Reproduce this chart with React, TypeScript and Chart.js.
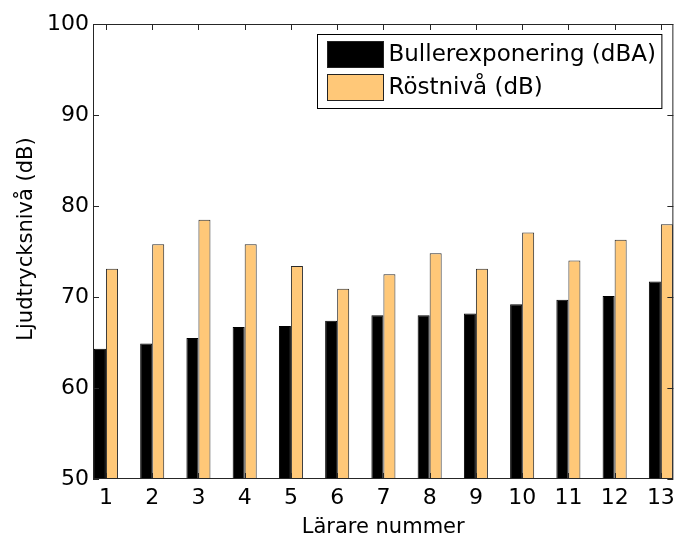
import { useEffect, useRef } from "react";
import { Chart, registerables } from "chart.js";

Chart.register(...registerables);

// Teacher index on the x axis
const teachers = [1, 2, 3, 4, 5, 6, 7, 8, 9, 10, 11, 12, 13];
// Noise exposure per teacher (dBA)
const noiseExposure = [64.3, 64.9, 65.5, 66.7, 66.8, 67.4, 68.0, 68.0, 68.2, 69.2, 69.7, 70.1, 71.7];
// Voice level per teacher (dB)
const voiceLevel = [73.1, 75.8, 78.5, 75.8, 73.4, 70.9, 72.5, 74.8, 73.1, 77.1, 74.0, 76.3, 78.0];
// Y axis tick values
const yTicks = [50, 60, 70, 80, 90, 100];
const seriesNames = ["Bullerexponering (dBA)", "Röstnivå (dB)"];
const xTitle = "Lärare nummer";
const yTitle = "Ljudtrycksnivå (dB)";

const FONT = '"DejaVu Sans", "Liberation Sans", Arial, sans-serif';
const AXIS_COLOR = "#262626";
const NOISE_COLOR = "#000000";
const VOICE_COLOR = "#ffc878";

// Draws the closed axes box, inward ticks, y label and the boxed legend.
const framePlugin = {
  id: "frameAndLegend",
  afterDatasetsDraw(chart: any) {
    const { ctx, chartArea: a, scales } = chart;
    const xs = scales.x;
    const ys = scales.y;
    ctx.save();
    ctx.strokeStyle = AXIS_COLOR;
    ctx.lineWidth = 1;
    ctx.strokeRect(a.left + 0.5, a.top + 0.5, a.right - a.left - 1, a.bottom - a.top - 1);

    const tl = 6;
    ctx.beginPath();
    for (const t of teachers) {
      const px = Math.round(xs.getPixelForValue(t)) + 0.5;
      ctx.moveTo(px, a.bottom);
      ctx.lineTo(px, a.bottom - tl);
      ctx.moveTo(px, a.top);
      ctx.lineTo(px, a.top + tl);
    }
    for (const v of yTicks) {
      const py = Math.round(ys.getPixelForValue(v)) + 0.5;
      ctx.moveTo(a.left, py);
      ctx.lineTo(a.left + tl, py);
      ctx.moveTo(a.right, py);
      ctx.lineTo(a.right - tl, py);
    }
    ctx.stroke();

    // y axis label
    ctx.save();
    ctx.translate(27, 239);
    ctx.rotate(-Math.PI / 2);
    ctx.font = `21px ${FONT}`;
    ctx.fillStyle = "#000";
    ctx.textAlign = "center";
    ctx.textBaseline = "middle";
    ctx.fillText(yTitle, 0, 0);
    ctx.restore();

    // legend
    ctx.font = `23px ${FONT}`;
    const datasets = chart.data.datasets;
    const textW = Math.max(...datasets.map((d: any) => ctx.measureText(d.label).width));
    const swW = 56;
    const swH = 26;
    const padL = 10;
    const gap = 5;
    const padR = 6;
    const rowH = 33;
    const boxW = padL + swW + gap + textW + padR;
    const boxH = 7 + rowH * datasets.length + 1;
    const bx = Math.round(a.right - 12 - boxW) + 0.5;
    const by = Math.round(a.top + 10) + 0.5;
    ctx.fillStyle = "#fff";
    ctx.fillRect(bx, by, boxW, boxH);
    ctx.strokeStyle = "#000";
    ctx.strokeRect(bx, by, boxW, boxH);
    datasets.forEach((d: any, i: number) => {
      const sy = by + 7 + i * rowH;
      ctx.fillStyle = d.backgroundColor;
      ctx.fillRect(bx + padL, sy, swW, swH);
      ctx.strokeStyle = "#222";
      ctx.strokeRect(bx + padL, sy, swW, swH);
      ctx.fillStyle = "#000";
      ctx.textAlign = "left";
      ctx.textBaseline = "middle";
      ctx.fillText(d.label, bx + padL + swW + gap, sy + swH / 2 + 1);
    });
    ctx.restore();
  },
};

export default function App() {
  const canvasRef = useRef<HTMLCanvasElement | null>(null);

  useEffect(() => {
    if (!canvasRef.current) return;
    const chart = new Chart(canvasRef.current, {
      type: "bar",
      data: {
        datasets: [
          {
            label: seriesNames[0],
            data: teachers.map((t, i) => ({ x: t, y: noiseExposure[i] })),
            backgroundColor: NOISE_COLOR,
            borderColor: "#000",
            borderWidth: 1,
          },
          {
            label: seriesNames[1],
            data: teachers.map((t, i) => ({ x: t, y: voiceLevel[i] })),
            backgroundColor: VOICE_COLOR,
            borderColor: "#2a2a2a",
            borderWidth: 1,
          },
        ],
      },
      options: {
        animation: false,
        responsive: false,
        maintainAspectRatio: false,
        layout: { padding: { left: 0, top: 24, right: 6, bottom: 0 } },
        datasets: {
          bar: { categoryPercentage: 0.52, barPercentage: 1 },
        },
        plugins: {
          legend: { display: false },
          tooltip: { enabled: false },
        },
        scales: {
          x: {
            type: "linear",
            offset: false,
            min: 0.72,
            max: 13.27,
            grid: { display: false, drawTicks: false },
            border: { display: false },
            afterBuildTicks: (scale: any) => {
              scale.ticks = teachers.map((v) => ({ value: v }));
            },
            afterFit: (scale: any) => {
              scale.height = 59;
            },
            ticks: {
              autoSkip: false,
              maxRotation: 0,
              padding: 6,
              color: "#000",
              font: { family: FONT, size: 22 },
              callback: (v: any) => String(v),
            },
            title: {
              display: true,
              text: xTitle,
              color: "#000",
              font: { family: FONT, size: 21, lineHeight: 1 },
              padding: { top: 0, bottom: 0 },
            },
          },
          y: {
            min: 50,
            max: 100,
            grid: { display: false, drawTicks: false },
            border: { display: false },
            afterBuildTicks: (scale: any) => {
              scale.ticks = yTicks.map((v) => ({ value: v }));
            },
            afterFit: (scale: any) => {
              scale.width = 93;
            },
            ticks: {
              padding: 4,
              color: "#000",
              font: { family: FONT, size: 22 },
            },
          },
        },
      },
      plugins: [framePlugin],
    } as any);
    return () => chart.destroy();
  }, []);

  return (
    <div style={{ position: "absolute", left: 0, top: 0, width: 681, height: 538, background: "#fff" }}>
      <canvas ref={canvasRef} width={681} height={538} />
    </div>
  );
}
